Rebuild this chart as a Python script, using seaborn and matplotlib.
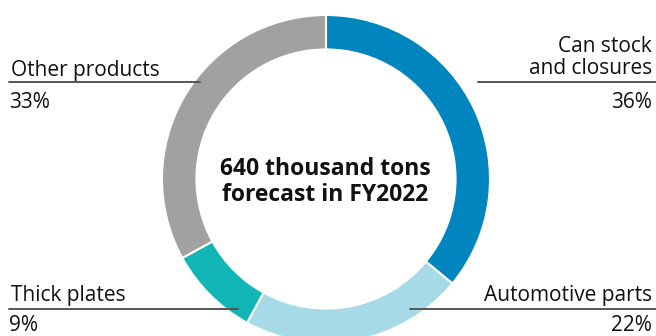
import matplotlib
matplotlib.use("Agg")
import matplotlib.pyplot as plt
import seaborn as sns

# chart data
categories = ["Can stock\nand closures", "Automotive parts", "Thick plates", "Other products"]
shares = [36, 22, 9, 33]
share_labels = ["36%", "22%", "9%", "33%"]
colors = ["#0085BE", "#A6DAE7", "#12B5B6", "#A0A1A0"]
center_text = "640 thousand tons\nforecast in FY2022"

sns.set_theme(style="white")
plt.rcParams["font.family"] = ["Open Sans", "DejaVu Sans"]

W, H = 656, 336
fig = plt.figure(figsize=(W / 100, H / 100), dpi=100)

# donut, placed in pixel terms: centre (326, 179), radius 164
cx, cy, r = 326, 179, 164
ax = fig.add_axes([(cx - r) / W, (H - cy - r) / H, 2 * r / W, 2 * r / H])
ax.pie(shares, colors=colors, startangle=90, counterclock=False, radius=1,
       wedgeprops=dict(width=0.21, edgecolor="white", linewidth=1.5))
ax.set_xlim(-1, 1)
ax.set_ylim(-1, 1)
ax.set_aspect("equal")
ax.axis("off")

# overlay in pixel coordinates for labels and leader lines
ov = fig.add_axes([0, 0, 1, 1])
ov.set_xlim(0, W)
ov.set_ylim(H, 0)
ov.axis("off")
ov.patch.set_alpha(0)

fs = 15
txt = "#111111"
line_kw = dict(color="#555555", lw=1.4)

# Other products (top left)
ov.text(11, 76, categories[3], fontsize=fs, va="baseline", ha="left", color=txt)
ov.plot([9, 200], [82, 82], **line_kw)
ov.text(9, 108, share_labels[3], fontsize=fs, va="baseline", ha="left", color=txt)

# Can stock (top right)
ov.text(652, 74, categories[0], fontsize=fs, va="baseline", ha="right",
        color=txt, linespacing=1.05, multialignment="right")
ov.plot([478, W], [82, 82], **line_kw)
ov.text(652, 108, share_labels[0], fontsize=fs, va="baseline", ha="right", color=txt)

# Thick plates (bottom left)
ov.text(11, 301, categories[2], fontsize=fs, va="baseline", ha="left", color=txt)
ov.plot([9, 238], [309, 309], **line_kw)
ov.text(9, 331, share_labels[2], fontsize=fs, va="baseline", ha="left", color=txt)

# Automotive parts (bottom right)
ov.text(652, 301, categories[1], fontsize=fs, va="baseline", ha="right", color=txt)
ov.plot([410, W], [309, 309], **line_kw)
ov.text(652, 331, share_labels[1], fontsize=fs, va="baseline", ha="right", color=txt)

# centre text
ov.text(325, 182, center_text, fontsize=16.5, fontweight="bold", ha="center",
        va="center", color=txt, linespacing=1.1)

fig.savefig("out.png", dpi=100)
